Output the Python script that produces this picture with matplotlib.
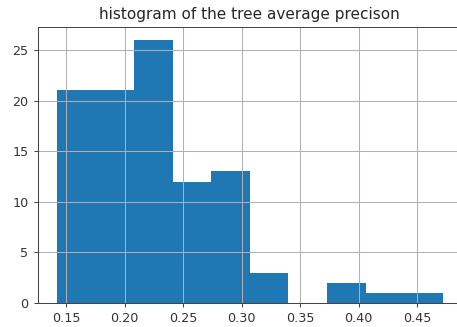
import matplotlib
matplotlib.use("Agg")
import matplotlib.pyplot as plt
import numpy as np

# bin edges and counts of the tree average precision histogram
bin_edges = [0.142, 0.175, 0.208, 0.241, 0.274, 0.307, 0.340, 0.373, 0.406, 0.439, 0.472]
counts = [21, 21, 26, 12, 13, 3, 0, 2, 1, 1]

scale = 1.27
fig = plt.figure(figsize=(457 / 72, 327 / 72), dpi=72)
ax = fig.add_axes([37.5 / 457, 24 / 327, 424.5 / 457, 276.3 / 327])

ax.hist(bin_edges[:-1], bins=bin_edges, weights=counts, color="#1f77b4")
ax.grid(True, color="#b0b0b0", linewidth=0.8 * scale)
ax.set_title("histogram of the tree average precison", fontsize=12 * scale,
             color="#262626", pad=6 * scale)
ax.set_xticks([0.15, 0.20, 0.25, 0.30, 0.35, 0.40, 0.45])
ax.set_yticks([0, 5, 10, 15, 20, 25])
ax.tick_params(labelsize=10 * scale, labelcolor="#333333", color="#444444",
               length=3.5 * scale, width=0.8 * scale, pad=3.5 * scale)
for sp in ax.spines.values():
    sp.set_color("#444444")
    sp.set_linewidth(0.8 * scale)

fig.savefig("out.png", dpi=72)
